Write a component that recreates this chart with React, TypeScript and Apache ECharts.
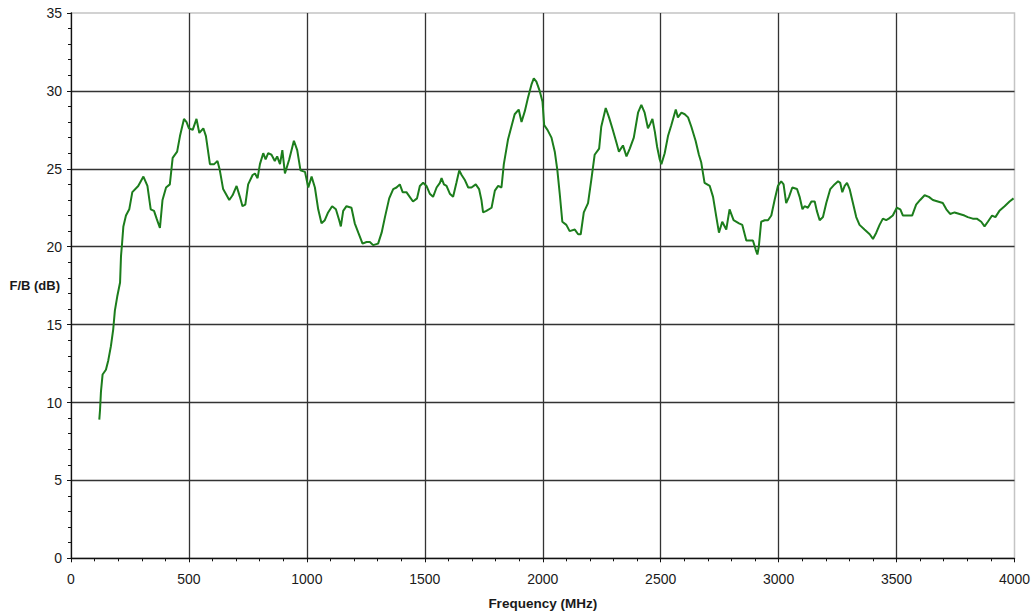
import React, { useEffect, useRef } from "react";
import * as echarts from "echarts";

const FREQ_MHZ = [
  120, 123, 127, 134, 148, 158, 169, 179, 186, 196, 208, 212, 217, 222, 233, 247, 260, 285, 307, 324,
  338, 352, 363, 377, 388, 403, 419, 431, 450, 462, 479, 490, 500, 516, 532, 544, 561, 572, 589, 607,
  621, 631, 645, 671, 685, 702, 716, 727, 739, 751, 770, 780, 791, 801, 815, 825, 836, 850, 864, 874,
  886, 896, 907, 925, 945, 959, 973, 992, 1006, 1020, 1034, 1048, 1062, 1076, 1090, 1107, 1123, 1137, 1144, 1154,
  1168, 1189, 1203, 1218, 1236, 1253, 1267, 1281, 1302, 1317, 1331, 1349, 1366, 1380, 1394, 1406, 1422, 1436, 1450, 1467,
  1479, 1493, 1507, 1521, 1535, 1550, 1564, 1571, 1581, 1592, 1606, 1620, 1634, 1646, 1656, 1669, 1684, 1698, 1716, 1730,
  1740, 1747, 1761, 1783, 1797, 1811, 1825, 1835, 1853, 1867, 1881, 1898, 1910, 1924, 1938, 1952, 1962, 1973, 1987, 1999,
  2006, 2020, 2037, 2051, 2062, 2072, 2083, 2100, 2114, 2136, 2150, 2161, 2174, 2192, 2206, 2220, 2239, 2248, 2267, 2281,
  2295, 2312, 2323, 2340, 2355, 2369, 2386, 2404, 2418, 2432, 2446, 2456, 2465, 2475, 2485, 2496, 2503, 2517, 2531, 2545,
  2564, 2573, 2588, 2602, 2616, 2630, 2648, 2662, 2672, 2686, 2708, 2722, 2736, 2747, 2761, 2778, 2792, 2809, 2832, 2846,
  2863, 2877, 2891, 2903, 2910, 2916, 2926, 2941, 2955, 2969, 2983, 2997, 3011, 3021, 3032, 3044, 3058, 3078, 3089, 3101,
  3110, 3124, 3139, 3153, 3162, 3174, 3188, 3202, 3219, 3237, 3252, 3261, 3270, 3280, 3290, 3301, 3315, 3329, 3343, 3364,
  3386, 3400, 3414, 3428, 3442, 3456, 3467, 3484, 3501, 3516, 3527, 3548, 3566, 3583, 3600, 3619, 3637, 3654, 3675, 3696,
  3711, 3727, 3746, 3767, 3788, 3802, 3823, 3840, 3859, 3873, 3887, 3905, 3919, 3936, 3958, 3979, 3996,
];

const FB_DB = [
  8.9, 9.5, 10.7, 11.8, 12.1, 12.7, 13.6, 14.7, 15.9, 16.8, 17.7, 19.4, 20.3, 21.3, 22.0, 22.4, 23.5, 23.9, 24.5, 23.9,
  22.4, 22.3, 21.8, 21.2, 23.0, 23.8, 24.0, 25.7, 26.1, 27.1, 28.2, 28.0, 27.6, 27.5, 28.2, 27.3, 27.6, 27.1, 25.3, 25.3,
  25.5, 24.9, 23.7, 23.0, 23.3, 23.9, 23.2, 22.6, 22.7, 24.0, 24.6, 24.7, 24.4, 25.3, 26.0, 25.6, 26.0, 25.9, 25.5, 25.8,
  25.3, 26.2, 24.7, 25.6, 26.8, 26.2, 24.9, 24.8, 23.8, 24.5, 23.8, 22.4, 21.5, 21.7, 22.2, 22.6, 22.4, 21.7, 21.3, 22.3,
  22.6, 22.5, 21.5, 20.9, 20.2, 20.3, 20.3, 20.1, 20.2, 20.9, 21.9, 23.1, 23.7, 23.8, 24.0, 23.5, 23.5, 23.2, 22.9, 23.1,
  23.9, 24.1, 23.9, 23.4, 23.2, 23.8, 24.1, 24.4, 24.0, 23.9, 23.4, 23.2, 24.1, 24.9, 24.6, 24.3, 23.8, 23.8, 24.0, 23.7,
  23.0, 22.2, 22.3, 22.5, 23.6, 23.9, 23.8, 25.3, 26.9, 27.7, 28.5, 28.8, 28.0, 28.7, 29.6, 30.4, 30.8, 30.6, 30.0, 29.3,
  27.8, 27.5, 27.0, 26.1, 24.9, 23.4, 21.6, 21.4, 21.0, 21.1, 20.8, 20.8, 22.2, 22.8, 24.3, 25.9, 26.3, 27.7, 28.9, 28.3,
  27.6, 26.7, 26.1, 26.5, 25.8, 26.3, 27.0, 28.6, 29.1, 28.6, 27.6, 27.9, 28.2, 27.4, 26.4, 25.6, 25.3, 26.0, 27.1, 27.8,
  28.8, 28.3, 28.6, 28.5, 28.3, 27.7, 26.8, 25.9, 25.4, 24.1, 23.9, 23.2, 21.9, 20.9, 21.6, 21.1, 22.4, 21.7, 21.5, 21.4,
  20.4, 20.4, 20.4, 19.8, 19.5, 20.0, 21.6, 21.7, 21.7, 22.0, 23.0, 23.9, 24.2, 24.0, 22.8, 23.2, 23.8, 23.7, 23.2, 22.4,
  22.6, 22.5, 22.9, 22.9, 22.3, 21.7, 21.9, 22.8, 23.7, 24.0, 24.2, 24.1, 23.5, 23.9, 24.1, 23.7, 22.8, 21.9, 21.4, 21.1,
  20.8, 20.5, 20.9, 21.4, 21.8, 21.7, 21.8, 22.0, 22.5, 22.4, 22.0, 22.0, 22.0, 22.7, 23.0, 23.3, 23.2, 23.0, 22.9, 22.8,
  22.4, 22.1, 22.2, 22.1, 22.0, 21.9, 21.8, 21.8, 21.6, 21.3, 21.6, 22.0, 21.9, 22.3, 22.6, 22.9, 23.1,
];

const X_AXIS_NAME = "Frequency (MHz)";
const Y_AXIS_NAME = "F/B (dB)";

const FONT = "'Liberation Sans', Arial, sans-serif";

export default function App() {
  const ref = useRef<HTMLDivElement>(null);

  useEffect(() => {
    if (!ref.current) return;
    const chart = echarts.init(ref.current, undefined, { renderer: "svg" });
    const data = FREQ_MHZ.map((f, i) => [f, FB_DB[i]]);
    chart.setOption({
      animation: false,
      backgroundColor: "#ffffff",
      grid: {
        left: 71,
        right: 17.5,
        top: 13,
        bottom: 57.7,
        containLabel: false,
        outerBoundsMode: "none",
        show: true,
        borderColor: "#c4c4c4",
        borderWidth: 1.5,
        backgroundColor: "transparent",
      },
      xAxis: {
        type: "value",
        min: 0,
        max: 4000,
        interval: 500,
        name: X_AXIS_NAME,
        nameLocation: "middle",
        nameGap: 38,
        nameMoveOverlap: false,
        nameTextStyle: { fontFamily: FONT, fontSize: 13.5, fontWeight: "bold", color: "#1a1a1a" },
        axisLine: { show: true, lineStyle: { color: "#111", width: 1.3 } },
        axisTick: { show: true, inside: false, length: 4, lineStyle: { color: "#111" } },
        minorTick: { show: true, splitNumber: 5, length: 3, lineStyle: { color: "#111" } },
        axisLabel: {
          fontFamily: FONT,
          fontSize: 14,
          color: "#1a1a1a",
          margin: 14,
          formatter: (v: number) => String(v),
        },
        splitLine: {
          show: true,
          showMinLine: false,
          showMaxLine: false,
          lineStyle: { color: "#333", width: 1.3 },
        },
      },
      yAxis: {
        type: "value",
        min: 0,
        max: 35,
        interval: 5,
        name: Y_AXIS_NAME,
        nameLocation: "middle",
        nameRotate: 0,
        nameGap: 11,
        nameMoveOverlap: false,
        nameTextStyle: { fontFamily: FONT, fontSize: 13, fontWeight: "bold", color: "#1a1a1a", align: "right", verticalAlign: "middle" },
        axisLine: { show: true, lineStyle: { color: "#111", width: 1.3 } },
        axisTick: { show: true, inside: false, length: 4, lineStyle: { color: "#111" } },
        minorTick: { show: true, splitNumber: 5, length: 3, lineStyle: { color: "#111" } },
        axisLabel: {
          fontFamily: FONT,
          fontSize: 14,
          color: "#1a1a1a",
          margin: 9,
          formatter: (v: number) => String(v),
        },
        splitLine: {
          show: true,
          showMinLine: false,
          showMaxLine: false,
          lineStyle: { color: "#333", width: 1.3 },
        },
      },
      series: [
        {
          type: "line",
          data,
          showSymbol: false,
          symbol: "none",
          lineStyle: { color: "#1c7d1c", width: 2 },
          z: 5,
        },
      ],
    });
    return () => chart.dispose();
  }, []);

  return (
    <div
      ref={ref}
      style={{ position: "fixed", left: 0, top: 0, width: 1032, height: 616, background: "#fff" }}
    />
  );
}
